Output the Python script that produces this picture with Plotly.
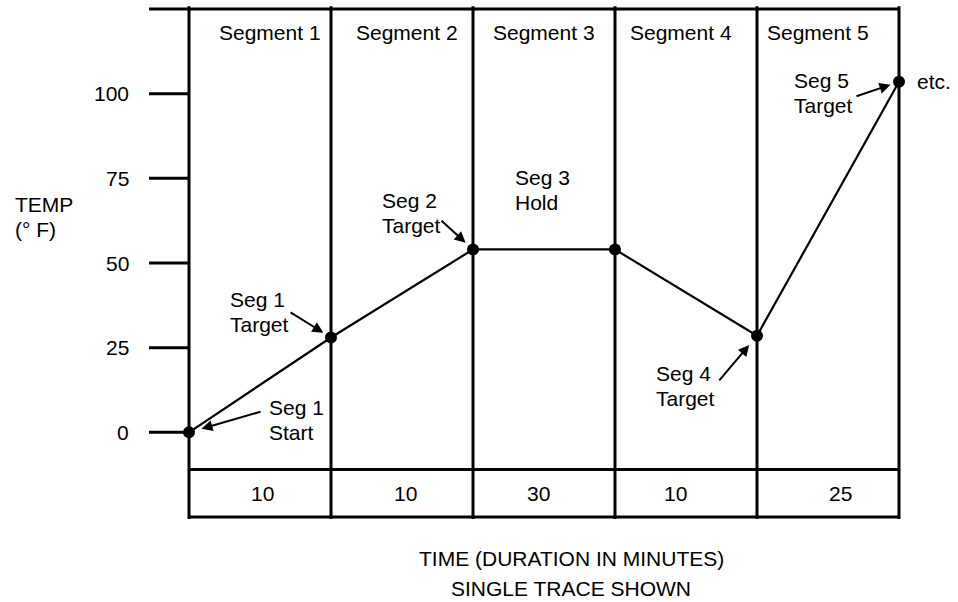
import plotly.graph_objects as go

# ---- data -------------------------------------------------------------
segments = ["Segment 1", "Segment 2", "Segment 3", "Segment 4", "Segment 5"]
durations = [10, 10, 30, 10, 25]          # minutes per segment
boundaries = [0, 1, 2, 3, 4, 5]           # segment boundaries (equal width columns)
temps = [0, 28, 54, 54, 28.5, 103.5]      # temperature at each boundary (°F)
y_ticks = [0, 25, 50, 75, 100]

# ---- frame geometry (pixels) -------------------------------------------
W, H = 958, 602
LEFT_PX, RIGHT_PX = 189, 899              # x = 0 and x = 5
TOP_PX, BOTTOM_PX = 9, 517                # y = 125 and y = -25
Y_TOP, Y_BOT = 125, -25
TABLE_TOP = -11
LINE_GAP = 25                             # px between lines of a stacked label

px_x = (RIGHT_PX - LEFT_PX) / (boundaries[-1] - boundaries[0])
px_y = (BOTTOM_PX - TOP_PX) / (Y_TOP - Y_BOT)
x_range = [-LEFT_PX / px_x, boundaries[-1] + (W - RIGHT_PX) / px_x]
y_range = [Y_BOT - (H - BOTTOM_PX) / px_y, Y_TOP + TOP_PX / px_y]
tick_start = -(LEFT_PX - 149) / px_x

FONT = dict(family="Liberation Sans, Arial, Helvetica, sans-serif", size=21, color="black")
BLK = "black"

fig = go.Figure()
fig.add_trace(go.Scatter(
    x=boundaries, y=temps, mode="lines+markers",
    line=dict(color=BLK, width=2.2),
    marker=dict(color=BLK, size=12),
    hoverinfo="skip", showlegend=False,
))

shapes = []
# column dividers
for b in boundaries:
    shapes.append(dict(type="line", x0=b, x1=b, y0=Y_BOT - 0.6, y1=Y_TOP + 0.8,
                       line=dict(color=BLK, width=3)))
# top rule and y ticks
shapes.append(dict(type="line", x0=tick_start, x1=boundaries[-1], y0=Y_TOP, y1=Y_TOP,
                   line=dict(color=BLK, width=3)))
for t in y_ticks:
    shapes.append(dict(type="line", x0=tick_start, x1=0, y0=t, y1=t,
                       line=dict(color=BLK, width=3)))
# duration table rules
for yy in (TABLE_TOP, Y_BOT):
    shapes.append(dict(type="line", x0=boundaries[0], x1=boundaries[-1], y0=yy, y1=yy,
                       line=dict(color=BLK, width=3)))

ann = []


def stacked(lines, dy, **kw):
    """Left-aligned multi-line label with a fixed line gap."""
    n = len(lines)
    for k, line in enumerate(lines):
        ann.append(dict(text=line, yshift=dy + (n - 1) / 2 * LINE_GAP - k * LINE_GAP,
                        xanchor="left", yanchor="middle", showarrow=False, font=FONT, **kw))


# y tick labels
for t in y_ticks:
    ann.append(dict(x=tick_start, y=t, text=str(t), xanchor="right", yanchor="middle",
                    xshift=-18, showarrow=False, font=FONT))
stacked(["TEMP", "(° F)"], -1, x=0, xref="paper", y=64, xshift=13)

# segment headers and durations
for i, (name, d) in enumerate(zip(segments, durations)):
    mid = (boundaries[i] + boundaries[i + 1]) / 2
    ann.append(dict(x=mid, y=118, text=name, xanchor="center", yanchor="middle",
                    xshift=10 - 5 * i, showarrow=False, font=FONT))
    ann.append(dict(x=mid, y=(TABLE_TOP + Y_BOT) / 2, text=str(d), xanchor="center",
                    yanchor="middle", xshift=[2, 3, -6, -11, 12][i], showarrow=False,
                    font=FONT))

# callout labels: (point index, lines, xshift, yshift)
callouts = [
    (0, ["Seg 1", "Start"], 78, 12),
    (1, ["Seg 1", "Target"], -103, 26),
    (2, ["Seg 2", "Target"], -93, 36),
    (2, ["Seg 3", "Hold"], 40, 59),
    (4, ["Seg 4", "Target"], -103, -50),
    (5, ["Seg 5", "Target"], -107, -11),
    (5, ["etc."], 16, 0),
]
for idx, lines, dx, dy in callouts:
    stacked(lines, dy, x=boundaries[idx], y=temps[idx], xshift=dx)

# arrows: (point index, tail offset x, tail offset y, standoff)
arrows = [
    (0, 73, -21, 13),
    (1, -42, -26, 9),
    (2, -33, -30, 10),
    (4, -39, 46, 12),
    (5, -44, 15, 9),
]
for idx, ax, ay, so in arrows:
    ann.append(dict(x=boundaries[idx], y=temps[idx], ax=ax, ay=ay, text="",
                    showarrow=True, arrowhead=2, arrowsize=1.1, arrowwidth=2,
                    arrowcolor=BLK, standoff=so))

# axis caption
ann.append(dict(x=571 / W, xref="paper", y=1 - 558 / H, yref="paper",
                text="TIME (DURATION IN MINUTES)", showarrow=False, font=FONT,
                xanchor="center", yanchor="middle"))
ann.append(dict(x=571 / W, xref="paper", y=1 - 588 / H, yref="paper",
                text="SINGLE TRACE SHOWN", showarrow=False, font=FONT,
                xanchor="center", yanchor="middle"))

fig.update_layout(
    width=W, height=H,
    margin=dict(l=0, r=0, t=0, b=0),
    paper_bgcolor="white", plot_bgcolor="white",
    xaxis=dict(range=x_range, visible=False, fixedrange=True),
    yaxis=dict(range=y_range, visible=False, fixedrange=True),
    shapes=shapes, annotations=ann, font=FONT,
)

fig.write_html("out.html")
